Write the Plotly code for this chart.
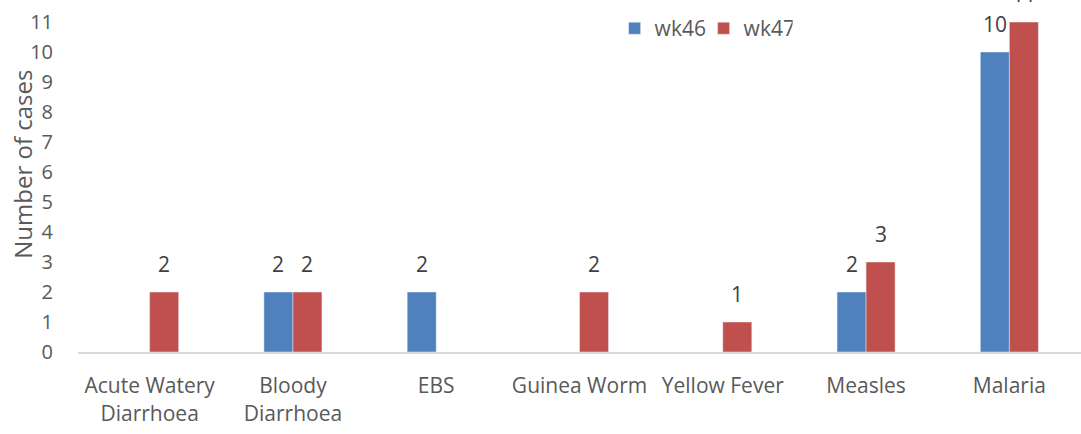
import plotly.graph_objects as go

categories = ["Acute Watery<br>Diarrhoea", "Bloody<br>Diarrhoea", "EBS", "Guinea Worm",
              "Yellow Fever", "Measles", "Malaria"]
wk46 = [None, 2, 2, None, None, 2, 10]
wk47 = [2, 2, None, 2, 1, 3, 11]
y_ticks = list(range(0, 12))
y_title = "Number of cases"

FONT = "Open Sans"
TXT = "#595959"
LBL = "#404040"

fig = go.Figure()
fig.add_trace(go.Bar(name="wk46", x=categories, y=wk46, marker_color="#4F81BD"))
fig.add_trace(go.Bar(name="wk47", x=categories, y=wk47, marker_color="#C0504D"))

# data labels placed above each bar via the data scales
annotations = []
for vals, shift in ((wk46, -14.5), (wk47, 14.5)):
    for cat, v in zip(categories, vals):
        if v is None:
            continue
        annotations.append(dict(x=cat, y=v, xref="x", yref="y", text=str(v),
                                showarrow=False, xshift=shift, yshift=12,
                                xanchor="center", yanchor="bottom",
                                font=dict(family=FONT, size=21, color=LBL)))
annotations.append(dict(text=y_title, textangle=-90, xref="paper", yref="paper",
                        x=-0.055, y=0.57, xanchor="center", yanchor="middle",
                        showarrow=False, font=dict(family=FONT, size=24, color=TXT)))

fig.update_layout(
    width=1081, height=434,
    margin=dict(l=78, r=0, t=22, b=82, autoexpand=False),
    plot_bgcolor="white", paper_bgcolor="white",
    barmode="group", bargap=0.595, bargroupgap=0,
    font=dict(family=FONT, size=20, color=TXT),
    legend=dict(orientation="h", x=0.535, y=0.98, xanchor="left", yanchor="middle",
                entrywidth=44, entrywidthmode="pixels",
                font=dict(size=21, color=TXT), bgcolor="rgba(0,0,0,0)"),
    annotations=annotations,
)
fig.update_xaxes(showline=True, linecolor="#D9D9D9", linewidth=2, ticks="",
                 ticklabelstandoff=14,
                 tickfont=dict(size=21, color=TXT), showgrid=False, automargin=False)
fig.update_yaxes(range=[0, 11], tickvals=y_ticks, showgrid=False, zeroline=False,
                 showline=False, ticks="", ticklabelstandoff=24, automargin=False,
                 tickfont=dict(size=20, color=TXT))

fig.write_html("out.html", config={"displayModeBar": False},
               post_script="document.body.style.margin='0';")
